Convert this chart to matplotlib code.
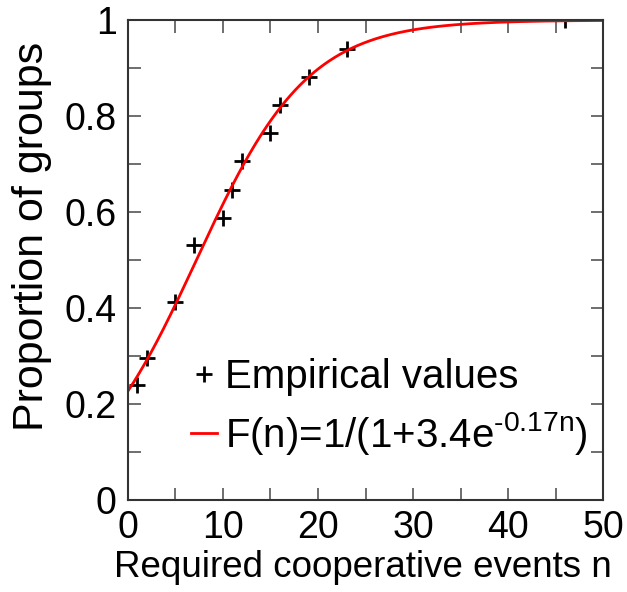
import numpy as np
import matplotlib
matplotlib.use("Agg")
import matplotlib.pyplot as plt

plt.rcParams['font.family'] = ['Liberation Sans', 'DejaVu Sans']
plt.rcParams['mathtext.fontset'] = 'custom'
plt.rcParams['mathtext.rm'] = 'Liberation Sans'

# empirical values
n_emp = [1, 2, 5, 7, 10, 11, 12, 15, 16, 19, 23, 46]
p_emp = [0.24, 0.296, 0.413, 0.531, 0.588, 0.646, 0.706, 0.765, 0.823, 0.881, 0.94, 1.0]

# fitted logistic curve parameters
fit_a, fit_b = 3.4, 0.17

fig = plt.figure(figsize=(6.27, 5.92), dpi=100)
ax = fig.add_axes([0.204, 0.155, 0.758, 0.811])

nn = np.linspace(0, 50, 500)
ax.plot(n_emp, p_emp, '+', color='black', ms=12, mew=2, label='Empirical values')
ax.plot(nn, 1 / (1 + fit_a * np.exp(-fit_b * nn)), '-', color='red', lw=2,
        label='F(n)=1/(1+3.4e$^{\\mathregular{\u20100.17n}}$)')

ax.set_xlim(0, 50)
ax.set_ylim(0, 1)
ax.set_xticks(np.arange(0, 51, 10))
ax.set_xticks(np.arange(0, 51, 5), minor=True)
ax.set_yticks([0, 0.2, 0.4, 0.6, 0.8, 1.0])
ax.set_yticklabels(['0', '0.2', '0.4', '0.6', '0.8', '1'])
ax.set_yticks(np.arange(0, 1.01, 0.1), minor=True)
ax.tick_params(which='both', direction='in', top=True, right=True,
               labelsize=27, color='#555555', width=1.2, length=9)
ax.tick_params(axis='y', pad=8)
ax.tick_params(axis='x', pad=7)
for s in ax.spines.values():
    s.set_color('#333333')
    s.set_linewidth(1.5)

ax.set_xlabel('Required cooperative events n', fontsize=26.5)
ax.xaxis.set_label_coords(0.495, -0.104)
ax.xaxis.label.set_va('top')
ax.set_ylabel('Proportion of groups', fontsize=31)
ax.yaxis.set_label_coords(-0.16, 0.55)

ax.legend(loc='lower left', bbox_to_anchor=(0.073, 0.032), frameon=False,
          fontsize=29, handlelength=0.65, handletextpad=0.2, labelspacing=0.33,
          borderpad=0.2)

fig.savefig('out.png', dpi=100)
